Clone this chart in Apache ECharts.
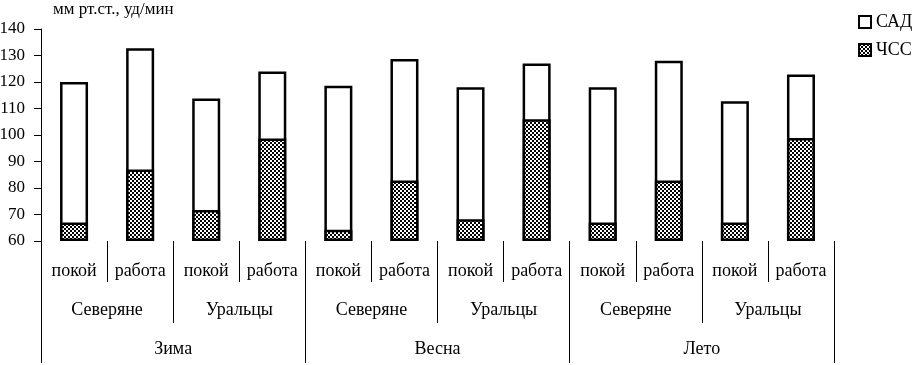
<!DOCTYPE html>
<html>
<head>
<meta charset="utf-8">
<title>САД / ЧСС</title>
<script src="https://cdn.jsdelivr.net/npm/echarts@6/dist/echarts.min.js"></script>
<style>
  html, body { margin: 0; padding: 0; background: #fff; }
  #chart { width: 916px; height: 365px; }
</style>
</head>
<body>
<div id="chart"></div>
<script>
// подписи категорий (3 уровня)
const states = ["покой", "работа", "покой", "работа", "покой", "работа",
                "покой", "работа", "покой", "работа", "покой", "работа"];
const groups = ["Северяне", "Уральцы", "Северяне", "Уральцы", "Северяне", "Уральцы"];
const seasons = ["Зима", "Весна", "Лето"];

// значения: САД (мм рт.ст.) и ЧСС (уд/мин)
const sadData = [120, 132.7, 113.8, 124, 118.6, 128.7, 118, 127, 118, 128, 112.7, 122.8];
const hrData = [67, 87, 71.7, 98.7, 64.2, 82.8, 68.2, 105.9, 67, 82.8, 67, 98.9];

const font = "Liberation Serif";

// штриховка для ЧСС (шахматка)
function makePattern() {
  let c = document.createElement("canvas");
  c.width = 4;
  c.height = 4;
  let ctx = c.getContext("2d");
  ctx.fillStyle = "#ffffff";
  ctx.fillRect(0, 0, 4, 4);
  ctx.fillStyle = "#000000";
  ctx.fillRect(0, 0, 2, 2);
  ctx.fillRect(2, 2, 2, 2);
  return c;
}

var myChart = echarts.init(document.getElementById("chart"), null, { renderer: "canvas" });

let option = {
  animation: false,
  // подпись оси Y
  title: {
    text: "мм рт.ст., уд/мин",
    left: 53,
    top: 1,
    padding: 0,
    textStyle: { color: "#000", fontFamily: font, fontSize: 17, fontWeight: "normal" },
  },
  legend: {
    orient: "vertical",
    left: 853,
    top: 8,
    itemWidth: 12,
    itemHeight: 12,
    itemGap: 10,
    icon: "rect",
    textStyle: { color: "#000", fontFamily: font, fontSize: 18 },
    data: ["САД", "ЧСС"],
  },
  grid: {
    left: 41,
    right: 82,
    top: 29,
    bottom: 124,
    outerBoundsMode: "none",
  },
  xAxis: [
    {
      type: "category",
      data: states,
      position: "bottom",
      axisLine: { show: false },
      axisTick: { show: true, interval: 0, length: 41, lineStyle: { color: "#000", width: 1 } },
      axisLabel: { interval: 0, margin: 21, color: "#000", fontFamily: font, fontSize: 18 },
    },
    {
      type: "category",
      data: groups,
      position: "bottom",
      axisLine: { show: false },
      axisTick: { show: true, interval: 0, length: 82, lineStyle: { color: "#000", width: 1 } },
      axisLabel: { interval: 0, margin: 60, color: "#000", fontFamily: font, fontSize: 18 },
    },
    {
      type: "category",
      data: seasons,
      position: "bottom",
      axisLine: { show: false },
      axisTick: { show: true, interval: 0, length: 122, lineStyle: { color: "#000", width: 1 } },
      axisLabel: { interval: 0, margin: 99, color: "#000", fontFamily: font, fontSize: 18 },
    },
  ],
  yAxis: {
    type: "value",
    min: 60,
    max: 140,
    interval: 10,
    startValue: 60,
    axisLine: { show: true, lineStyle: { color: "#000", width: 1 } },
    axisTick: { show: true, length: 7, lineStyle: { color: "#000" } },
    splitLine: { show: false },
    axisLabel: { margin: 16, color: "#000", fontFamily: font, fontSize: 17 },
  },
  series: [
    {
      name: "САД",
      type: "bar",
      xAxisIndex: 0,
      barWidth: 28,
      barGap: "-100%",
      itemStyle: { color: "#fff", borderColor: "#000", borderWidth: 2.5 },
      data: sadData,
    },
    {
      name: "ЧСС",
      type: "bar",
      xAxisIndex: 0,
      barWidth: 28,
      barGap: "-100%",
      itemStyle: {
        color: { image: makePattern(), repeat: "repeat" },
        borderColor: "#000",
        borderWidth: 2.5,
      },
      data: hrData,
    },
  ],
};

myChart.setOption(option);
window.addEventListener("resize", () => {
  if (myChart) myChart.resize();
});
</script>
</body>
</html>
